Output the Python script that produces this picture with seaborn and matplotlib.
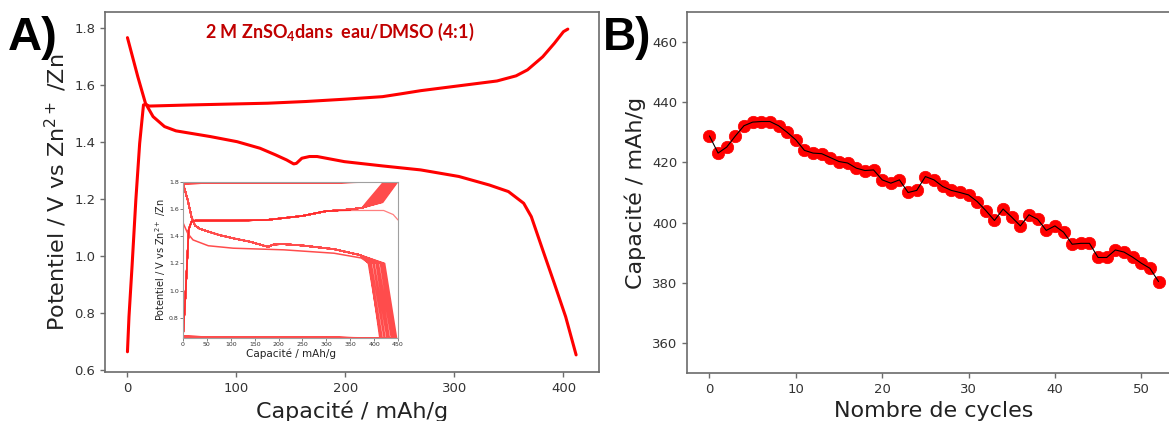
import numpy as np
import pandas as pd
import matplotlib
matplotlib.use("Agg")
import matplotlib.pyplot as plt
import seaborn as sns

# ---------------- Data ----------------
# Panel A main: one cycle (discharge then charge)
dis_cap = [0, 9.5, 16.5, 23.5, 34, 44.5, 76, 100.6, 121.6, 135.7, 146, 152.5, 155, 160, 167, 174,
           199, 234, 269, 304, 332, 349.5, 363.5, 370.5, 381, 391.6, 402, 411.6]
dis_v = [1.767, 1.63, 1.537, 1.49, 1.455, 1.44, 1.42, 1.402, 1.379, 1.356, 1.338, 1.324, 1.326, 1.344,
         1.35, 1.35, 1.332, 1.317, 1.303, 1.28, 1.25, 1.227, 1.186, 1.139, 1.022, 0.905, 0.788, 0.654]
chg_cap = [0, 1.4, 4.2, 7.7, 11.2, 14.7, 16.5, 20, 58.5, 93.6, 128.7, 163.7, 199, 234, 251, 269,
           304, 339, 356.5, 367, 381, 391.6, 400, 404]
chg_v = [0.665, 0.788, 0.964, 1.198, 1.396, 1.531, 1.533, 1.527, 1.531, 1.534, 1.537, 1.543, 1.551,
         1.56, 1.57, 1.581, 1.598, 1.615, 1.633, 1.654, 1.70, 1.747, 1.788, 1.797]

# Inset: common parts of each cycle + per-cycle tails
ins_chg_cap = [0, 5, 12, 18, 25, 100, 175, 250, 300, 350, 375]
ins_chg_v = [0.66, 0.95, 1.45, 1.51, 1.515, 1.515, 1.52, 1.55, 1.585, 1.598, 1.61]
ins_chg_knee = [384, 388, 390, 393, 397, 399, 402, 406, 409, 411, 415, 418]   # at 1.65 V
ins_chg_end = [420, 424, 426, 428, 432, 434, 437, 440, 442, 445, 447, 449]    # at 1.80 V
ins_dis_cap = [0, 10, 18, 25, 35, 53, 75, 105, 140, 165, 178, 190, 210, 250, 316, 370]
ins_dis_v = [1.79, 1.665, 1.54, 1.48, 1.455, 1.435, 1.41, 1.385, 1.36, 1.335, 1.322, 1.34, 1.342,
             1.332, 1.305, 1.262]
ins_dis_knee = [388, 391, 394, 398, 400, 404, 407, 409, 413, 416, 419, 422]   # at 1.20 V
ins_dis_end = [414, 417, 421, 423, 427, 429, 432, 436, 438, 441, 444, 447]    # at 0.65 V
# first (faint) cycle
ins_first_chg_cap = [0, 5, 12, 18, 25, 100, 175, 250, 295, 350, 420, 440, 450]
ins_first_chg_v = [0.66, 0.95, 1.45, 1.51, 1.515, 1.515, 1.52, 1.55, 1.585, 1.59, 1.59, 1.56, 1.52]
ins_first_dis_cap = [0, 10, 21, 53, 105, 211, 316, 373, 390, 412]
ins_first_dis_v = [1.5, 1.42, 1.373, 1.33, 1.312, 1.30, 1.275, 1.24, 1.2, 0.65]

# Panel B
cycles = list(range(53))
capacity = [428.8, 423.1, 425.1, 428.8, 432.2, 433.4, 433.6, 433.6, 432.2, 430.0, 427.5, 424.0,
            423.1, 422.9, 421.6, 420.3, 419.8, 418.1, 417.3, 417.5, 414.2, 413.1, 414.2, 410.0,
            410.7, 415.3, 414.2, 412.0, 410.7, 410.0, 409.2, 407.0, 404.0, 400.7, 404.5, 401.8,
            398.9, 402.6, 401.1, 397.4, 398.9, 396.8, 392.8, 393.1, 393.1, 388.4, 388.4, 390.9,
            390.2, 388.5, 386.5, 384.8, 380.4]

# ---------------- Style ----------------
sns.set_theme(style="ticks")
plt.rcParams['font.family'] = ['DejaVu Sans']
plt.rcParams['mathtext.fontset'] = 'custom'
plt.rcParams['mathtext.rm'] = 'DejaVu Sans'
plt.rcParams['mathtext.it'] = 'DejaVu Sans:italic'
plt.rcParams['mathtext.bf'] = 'Lato:bold'

W, H = 1169, 421
fig = plt.figure(figsize=(W / 100, H / 100), dpi=100)
fig.patch.set_facecolor('white')

spine_c = '#6b6b6b'
tick_c = '#333333'


def style_ax(ax, lsize=9, lw=1.2):
    for s in ax.spines.values():
        s.set_color(spine_c)
        s.set_linewidth(lw)
    ax.tick_params(colors=spine_c, labelcolor=tick_c, labelsize=lsize, length=3.5, width=1)


# ---------------- Panel A ----------------
axA = fig.add_axes([105 / W, 49 / H, 494 / W, 360 / H])
main_df = pd.DataFrame({
    'cap': dis_cap + chg_cap,
    'v': dis_v + chg_v,
    'part': ['d'] * len(dis_cap) + ['c'] * len(chg_cap),
})
for part in ['d', 'c']:
    sub = main_df[main_df['part'] == part]
    sns.lineplot(data=sub, x='cap', y='v', sort=False, estimator=None, color='red', lw=2.2, ax=axA)
axA.set_xlim(-20.6, 432.6)
axA.set_ylim(0.594, 1.857)
axA.set_xticks([0, 100, 200, 300, 400])
axA.set_yticks([0.6, 0.8, 1.0, 1.2, 1.4, 1.6, 1.8])
axA.set_xlabel('Capacité / mAh/g', fontsize=16, color='#222222', labelpad=4)
axA.set_ylabel(r'Potentiel / V vs Zn$^{2+}$ /Zn', fontsize=16, color='#222222', labelpad=4)
style_ax(axA, 9.5)
axA.text(0.476, 0.944, r'2 M ZnSO$_\mathbf{4}$dans  eau/DMSO (4:1)', transform=axA.transAxes,
         ha='center', va='center', fontsize=13, color='#c00000', family='Lato', weight='bold')

# ---------------- Inset ----------------
axI = fig.add_axes([183 / W, 83 / H, 215 / W, 156 / H])
seq_x, seq_y = [], []
seq_x += ins_first_dis_cap
seq_y += ins_first_dis_v
for k in range(len(ins_chg_end)):
    seq_x += ins_chg_cap + [ins_chg_knee[k], ins_chg_end[k]]
    seq_y += ins_chg_v + [1.65, 1.8]
    seq_x += ins_dis_cap + [ins_dis_knee[k], ins_dis_end[k]]
    seq_y += ins_dis_v + [1.2, 0.65]
ins_df = pd.DataFrame({'cap': seq_x, 'v': seq_y})
sns.lineplot(data=ins_df, x='cap', y='v', sort=False, estimator=None, color='red', lw=1.1,
             alpha=0.7, ax=axI)
first_df = pd.DataFrame({'cap': ins_first_chg_cap, 'v': ins_first_chg_v})
sns.lineplot(data=first_df, x='cap', y='v', sort=False, estimator=None, color='red', lw=0.9,
             alpha=0.5, ax=axI)
axI.set_xlim(0, 450)
axI.set_ylim(0.65, 1.8)
axI.set_xticks(list(range(0, 451, 50)))
axI.set_yticks([0.8, 1.0, 1.2, 1.4, 1.6, 1.8])
axI.set_xlabel('Capacité / mAh/g', fontsize=7.5, color='#222222', labelpad=1)
axI.set_ylabel(r'Potentiel / V vs Zn$^{2+}$ /Zn', fontsize=7, color='#222222', labelpad=1)
style_ax(axI, 4.5, lw=0.8)
axI.tick_params(length=2, width=0.6, pad=1)
for s in axI.spines.values():
    s.set_color('#a0a0a0')

# ---------------- Panel B ----------------
axB = fig.add_axes([687 / W, 48 / H, 494 / W, 361 / H])
b_df = pd.DataFrame({'cycle': cycles, 'cap': capacity})
sns.scatterplot(data=b_df, x='cycle', y='cap', color='red', s=80, edgecolor='red', linewidth=0.5,
                ax=axB, zorder=2)
sns.lineplot(data=b_df, x='cycle', y='cap', color='black', lw=0.8, ax=axB, zorder=3)
axB.set_ylim(350, 470)
axB.set_xlim(-2.6, 54.6)
axB.set_yticks([360, 380, 400, 420, 440, 460])
axB.set_xticks([0, 10, 20, 30, 40, 50])
axB.set_xlabel('Nombre de cycles', fontsize=16, color='#222222', labelpad=4)
axB.set_ylabel('Capacité / mAh/g', fontsize=16, color='#222222', labelpad=4)
style_ax(axB, 9.5)

# Panel letters
fig.text(8 / W, 1 - 38 / H, 'A)', fontsize=34, weight='bold', family='Liberation Sans',
         va='center', ha='left', color='black')
fig.text(603 / W, 1 - 38 / H, 'B)', fontsize=33, weight='bold', family='Liberation Sans',
         va='center', ha='left', color='black')

fig.savefig('out.png', dpi=100, facecolor='white')
